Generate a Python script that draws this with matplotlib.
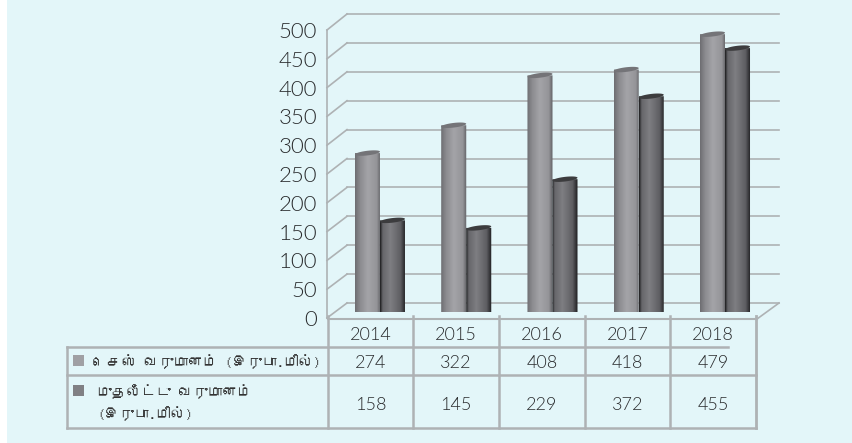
#!/usr/bin/env python3
import numpy as np
import matplotlib
matplotlib.use("Agg")
import matplotlib.pyplot as plt
from matplotlib import font_manager as fm
from matplotlib.ft2font import FT2Font
from matplotlib.colors import LinearSegmentedColormap
from matplotlib.patches import Rectangle, Polygon
from matplotlib.path import Path

years = ["2014", "2015", "2016", "2017", "2018"]
cess_income = [274, 322, 408, 418, 479]
invest_income = [158, 145, 229, 372, 455]
y_ticks = [0, 50, 100, 150, 200, 250, 300, 350, 400, 450, 500]
row1_label = "செஸ் வருமானம் (இருபா.மில்)"
row2_label = ["முதலீட்டு வருமானம்", "(இருபா.மில்)"]

W, H = 853, 443
BG = "#E3F6F9"
LINE = "#AEB2B4"
NUM = dict(family=["Lato", "DejaVu Sans"], weight=300, color="#2A2C2E")

# look for any installed family that really has the Tamil block
tamil_fonts = []
for f in fm.fontManager.ttflist:
    try:
        if 0x0BAE in FT2Font(f.fname).get_charmap():
            tamil_fonts.append(f.name)
    except Exception:
        pass
TAMIL = [tamil_fonts[0] if tamil_fonts else "Noto Sans", "DejaVu Sans"]


def visual_order(s):
    # matplotlib has no text shaping: the vowel sign e is written before its consonant
    chars = list(s)
    for i in range(1, len(chars)):
        if chars[i] == "\u0bc6":
            chars[i - 1], chars[i] = chars[i], chars[i - 1]
    return "".join(chars)


plt.rcParams["font.family"] = ["Lato", "DejaVu Sans"]
fig = plt.figure(figsize=(W / 100, H / 100), dpi=100, facecolor="white")


def px_axes(x0, y0, x1, y1, **kw):
    # axes placed by pixel box, y measured from the top of the image
    return fig.add_axes([x0 / W, 1 - y1 / H, (x1 - x0) / W, (y1 - y0) / H], **kw)


# frame and table are drawn in plain pixel coords
frame = px_axes(0, 0, W, H)
frame.set_xlim(0, W)
frame.set_ylim(H, 0)
frame.axis("off")
frame.add_patch(Rectangle((7, 0), 845, 443, fc=BG, ec="none"))

# y position of a value on the back wall / on the front edge
back_y = lambda v: 303 - v * 0.578
front_y = lambda v: 318 - v * 0.576
for v in y_ticks:
    frame.plot([347, 779], [back_y(v)] * 2, color=LINE, lw=1.2)
    frame.plot([327, 347], [front_y(v), back_y(v)], color=LINE, lw=1.2)
frame.plot([327, 327], [front_y(0), front_y(500)], color=LINE, lw=1.2)
frame.plot([757, 779], [319, back_y(0)], color=LINE, lw=1.2)

# table
col_x = [328, 413, 499, 585, 670, 756]
for x in col_x:
    frame.plot([x, x], [316, 428], color=LINE, lw=1.8 if x != 756 else 2)
frame.plot([328, 757], [319, 319], color=LINE, lw=1.5)
frame.plot([67, 728], [346.5, 346.5], color=LINE, lw=1.8)
frame.plot([67, 756], [375, 375], color=LINE, lw=1.8)
frame.plot([67, 756], [428, 428], color=LINE, lw=1.8)
frame.plot([67, 67], [346.5, 428], color=LINE, lw=1.8)

frame.add_patch(Rectangle((73, 355), 11, 11, fc="#A0A0A4", ec="none"))
frame.add_patch(Rectangle((73, 385), 11, 11, fc="#808084", ec="none"))
# first sign of row 1 hangs left of the text origin, hence the larger x
frame.text(108, 362, visual_order(row1_label), family=TAMIL, fontsize=10.6, color="#333", va="center")
frame.text(97, 392, visual_order(row2_label[0]), family=TAMIL, fontsize=10.6, color="#333", va="center")
frame.text(97, 414, visual_order(row2_label[1]), family=TAMIL, fontsize=10.6, color="#333", va="center")

for i, yr in enumerate(years):
    cx = (col_x[i] + col_x[i + 1]) / 2
    frame.text(cx, 335, yr, fontsize=13, ha="center", va="center", **NUM)
    frame.text(cx, 363, str(cess_income[i]), fontsize=13, ha="center", va="center", **NUM)
    frame.text(cx, 405, str(invest_income[i]), fontsize=13, ha="center", va="center", **NUM)

# y tick labels
front = px_axes(327, 30, 757, 318)
front.patch.set_alpha(0)
front.set_ylim(0, 500)
front.set_xticks([])
front.set_yticks(y_ticks)
front.set_yticklabels([str(v) for v in y_ticks], fontsize=16, fontweight=300, color="#2A2C2E")
front.tick_params(axis="y", length=0, pad=7)
for s in front.spines.values():
    s.set_visible(False)

# cylinders
ax = px_axes(327, 22, 757, 312)
ax.patch.set_alpha(0)
ax.axis("off")
xlim = (-0.614, 4.371)
ylim = (0, 500)
ax.set_xlim(*xlim)
ax.set_ylim(*ylim)

light_cm = LinearSegmentedColormap.from_list(
    "l", [(0, "#6E6E72"), (0.2, "#8C8C90"), (0.5, "#A4A4A8"), (0.85, "#949498"), (1, "#5E5E62")])
dark_cm = LinearSegmentedColormap.from_list(
    "d", [(0, "#1E1E20"), (0.1, "#66666A"), (0.4, "#7E7E82"), (0.8, "#5E5E62"), (1, "#1C1C1E")])
grad = np.linspace(0, 1, 64).reshape(1, -1)
x = np.arange(len(years))
w = 0.29
EB = 5.0  # half height of the end ellipses, in value units


def cylinder(bar, cmap, cap):
    x0, x1, top = bar.get_x(), bar.get_x() + bar.get_width(), bar.get_height()
    cx, a = (x0 + x1) / 2, (x1 - x0) / 2
    t = np.linspace(np.pi, 2 * np.pi, 40)
    body = np.vstack([[(x0, top), (x0, 0)],
                      np.c_[cx + a * np.cos(t), EB * np.sin(t)],
                      [(x1, top), (x0, top)]])
    im = ax.imshow(grad, cmap=cmap, extent=[x0, x1, -EB, top], aspect="auto", zorder=bar.get_zorder(), clip_on=True)
    im.set_clip_path(Path(body), transform=ax.transData)
    t = np.linspace(0, 2 * np.pi, 60)
    # the cap is tilted a little, rising to the right
    ax.add_patch(Polygon(np.c_[cx + a * np.cos(t), top + (EB - 1) * np.sin(t) + 2.5 * np.cos(t)],
                         fc=cap, ec="none", zorder=bar.get_zorder() + 0.1, clip_on=False))


light = ax.bar(x - w / 2, cess_income, w, color="none", zorder=3)
dark = ax.bar(x + w / 2, invest_income, w, color="none", zorder=4)
for b in light:
    cylinder(b, light_cm, "#747478")
for b in dark:
    cylinder(b, dark_cm, "#3C3C3E")
ax.set_xlim(*xlim)
ax.set_ylim(*ylim)

fig.savefig("out.png", dpi=100)
